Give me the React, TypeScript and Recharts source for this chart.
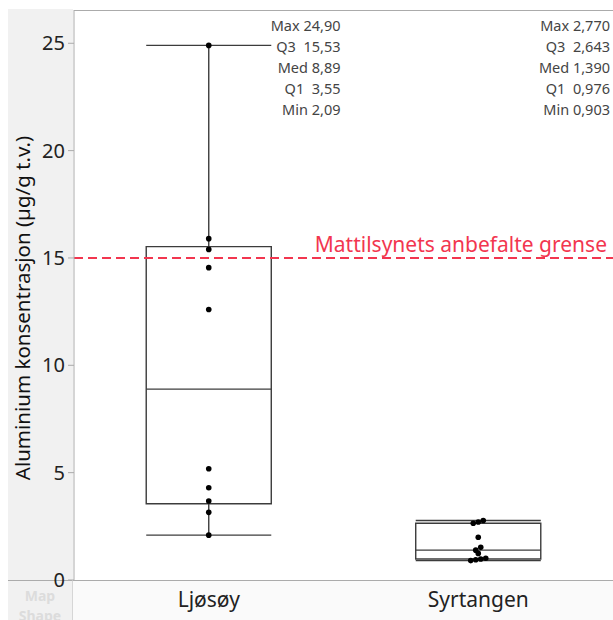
import React from "react";
import {
  ComposedChart,
  ReferenceArea,
  ReferenceDot,
  ReferenceLine,
  Scatter,
  XAxis,
  YAxis,
} from "recharts";

// Aluminium in µg/g dry weight, per site
const categories = ["Ljøsøy", "Syrtangen"];
const ljosoyValues = [24.9, 15.9, 15.4, 14.55, 12.6, 5.18, 4.3, 3.68, 3.15, 2.09];
const syrtangenValues = [2.77, 2.7, 2.643, 1.99, 1.52, 1.39, 1.24, 1.01, 0.976, 0.94, 0.903];

// quantile summary as printed in the plot
const maxValues = [24.9, 2.77];
const q3Values = [15.53, 2.643];
const medianValues = [8.89, 1.39];
const q1Values = [3.55, 0.976];
const minValues = [2.09, 0.903];
const statDecimals = [2, 3];

const yTicks = [0, 5, 10, 15, 20, 25];
const limitValue = 15;
const limitLabel = "Mattilsynets anbefalte grense";
const yLabel = "Aluminium konsentrasjon (µg/g t.v.)";

const FONT = "'Noto Sans', 'Open Sans', sans-serif";
const FRAME = "#ababab";
const BOX = "#3c3c3c";
const RED = "#f2364f";
const Y_MAX = 26.55;
const HALF = 0.232; // box half width in band units

// spread overlapping dots sideways, JMP style
function withOffsets(values: number[], centre: number) {
  const sorted = [...values].sort((a, b) => a - b);
  const groups: number[][] = [];
  for (const v of sorted) {
    const g = groups[groups.length - 1];
    if (g && v - g[g.length - 1] < 0.14) g.push(v);
    else groups.push([v]);
  }
  return groups.flatMap((g) =>
    g.map((v, i) => ({ x: centre, y: v, dx: (i - (g.length - 1) / 2) * 5 }))
  );
}

const points = [
  ...withOffsets(ljosoyValues, 0.5),
  ...withOffsets(syrtangenValues, 1.5),
];

const fmt = (v: number, d: number) => v.toFixed(d).replace(".", ",");

function StatsLabel(props: any) {
  const { viewBox, idx } = props;
  const d = statDecimals[idx];
  const rows = [
    `Max ${fmt(maxValues[idx], d)}`,
    `Q3  ${fmt(q3Values[idx], d)}`,
    `Med ${fmt(medianValues[idx], d)}`,
    `Q1  ${fmt(q1Values[idx], d)}`,
    `Min ${fmt(minValues[idx], d)}`,
  ];
  const x = viewBox.x - 3;
  return (
    <g>
      {rows.map((r, i) => (
        <text
          key={i}
          x={x}
          y={viewBox.y + 21 + i * 21}
          textAnchor="end"
          fontFamily={FONT}
          fontSize={14.5}
          fill="#444"
          style={{ whiteSpace: "pre" }}
        >
          {r}
        </text>
      ))}
    </g>
  );
}

function YTitle(props: any) {
  const { viewBox } = props;
  const cx = viewBox.x + 14;
  const cy = viewBox.y + 298;
  return (
    <text
      x={cx}
      y={cy}
      transform={`rotate(-90 ${cx} ${cy})`}
      textAnchor="middle"
      dominantBaseline="central"
      fontFamily={FONT}
      fontSize={20.5}
      fill="#111"
    >
      {yLabel}
    </text>
  );
}

export default function App() {
  return (
    <div style={{ position: "relative", width: 605, height: 612, fontFamily: FONT }}>
      <style>{"html{overflow:hidden}body{margin:8px 0 0 8px}"}</style>
      <div style={{ position: "absolute", left: 0, top: 1, width: 65, height: 611, background: "#f1f1f1" }} />
      <div
        style={{
          position: "absolute",
          left: 66,
          top: 2,
          width: 539,
          height: 570,
          background: "#fff",
          borderTop: `1px solid ${FRAME}`,
          boxSizing: "border-box",
        }}
      />
      <div style={{ position: "absolute", left: 65, top: 573, width: 540, height: 39, background: "#fafafa" }} />
      <div style={{ position: "absolute", left: 0, top: 572, width: 605, height: 1, background: FRAME }} />
      <div style={{ position: "absolute", left: 64, top: 572, width: 1, height: 40, background: "#d6d6d6" }} />
      <div
        style={{
          position: "absolute",
          left: 0,
          top: 578,
          width: 64,
          textAlign: "center",
          color: "#dcdcdc",
          fontWeight: 700,
          fontSize: 14,
          lineHeight: "20px",
          overflow: "hidden",
          height: 34,
        }}
      >
        Map
        <br />
        Shape
      </div>
      <div style={{ position: "absolute", left: 0, top: 0 }}>
        <ComposedChart
          width={605}
          height={612}
          data={points}
          margin={{ top: 2, right: 0, bottom: 0, left: 0 }}
        >
          <XAxis
            type="number"
            dataKey="x"
            domain={[0, 2]}
            ticks={[0.5, 1.5]}
            tickFormatter={(v) => categories[Math.floor(v)]}
            axisLine={false}
            tickLine={false}
            height={40}
            tickMargin={6}
            tick={{ fontSize: 21, fill: "#222", fontFamily: FONT }}
          />
          <YAxis
            type="number"
            dataKey="y"
            domain={[0, Y_MAX]}
            ticks={yTicks}
            width={66}
            axisLine={{ stroke: FRAME }}
            tickLine={{ stroke: FRAME }}
            tickSize={6}
            tickMargin={3}
            tick={{ fontSize: 20, fill: "#222", fontFamily: FONT }}
            label={<YTitle />}
          />

          {categories.map((c, i) => {
            const cx = i + 0.5;
            return (
              <React.Fragment key={c}>
                <ReferenceArea
                  x1={cx - HALF}
                  x2={cx + HALF}
                  y1={q1Values[i]}
                  y2={q3Values[i]}
                  fill="none"
                  fillOpacity={0}
                  stroke={BOX}
                  strokeWidth={1.4}
                />
                <ReferenceLine
                  segment={[
                    { x: cx - HALF, y: medianValues[i] },
                    { x: cx + HALF, y: medianValues[i] },
                  ]}
                  stroke={BOX}
                  strokeWidth={1.4}
                />
                <ReferenceLine
                  segment={[
                    { x: cx, y: q3Values[i] },
                    { x: cx, y: maxValues[i] },
                  ]}
                  stroke={BOX}
                  strokeWidth={1.4}
                />
                <ReferenceLine
                  segment={[
                    { x: cx, y: minValues[i] },
                    { x: cx, y: q1Values[i] },
                  ]}
                  stroke={BOX}
                  strokeWidth={1.4}
                />
                <ReferenceLine
                  segment={[
                    { x: cx - HALF, y: maxValues[i] },
                    { x: cx + HALF, y: maxValues[i] },
                  ]}
                  stroke={BOX}
                  strokeWidth={1.4}
                />
                <ReferenceLine
                  segment={[
                    { x: cx - HALF, y: minValues[i] },
                    { x: cx + HALF, y: minValues[i] },
                  ]}
                  stroke={BOX}
                  strokeWidth={1.4}
                />
                <ReferenceDot
                  x={i + 1}
                  y={Y_MAX}
                  r={0}
                  fill="none"
                  stroke="none"
                  label={<StatsLabel idx={i} />}
                />
              </React.Fragment>
            );
          })}

          <ReferenceLine
            y={limitValue}
            stroke={RED}
            strokeWidth={2}
            strokeDasharray="9 5"
            label={{
              value: limitLabel,
              position: "insideBottomRight",
              offset: 6,
              fill: RED,
              fontSize: 21,
              fontFamily: FONT,
            }}
          />

          <Scatter
            data={points}
            isAnimationActive={false}
            shape={(p: any) => (
              <circle cx={p.cx + p.payload.dx} cy={p.cy} r={2.8} fill="#000" />
            )}
          />
        </ComposedChart>
      </div>
    </div>
  );
}
